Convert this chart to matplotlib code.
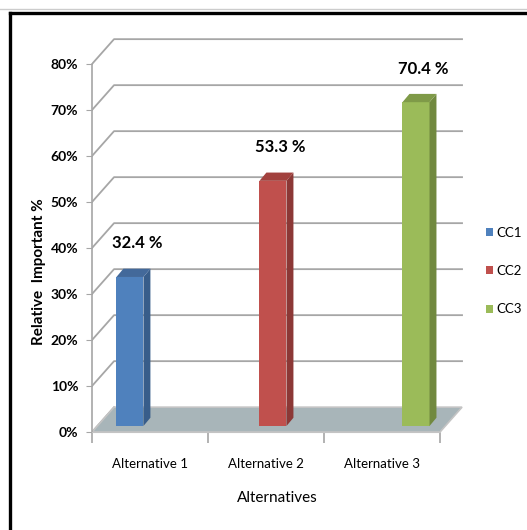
import numpy as np
import matplotlib.pyplot as plt
from matplotlib.patches import Polygon
from matplotlib.lines import Line2D

# data
categories = ["Alternative 1", "Alternative 2", "Alternative 3"]
series_names = ["CC1", "CC2", "CC3"]
cc1 = [32.4, 0, 0]
cc2 = [0, 53.3, 0]
cc3 = [0, 0, 70.4]
yticks = [0, 10, 20, 30, 40, 50, 60, 70, 80]

front_colors = ["#4f81bd", "#c0504d", "#9bbb59"]
side_colors = ["#385d8a", "#8c3836", "#71893f"]
top_colors = ["#43699a", "#a2413e", "#7f9a48"]

plt.rcParams["font.family"] = ["Lato", "DejaVu Sans"]

fig = plt.figure(figsize=(5.27, 5.30), dpi=100)
ax = fig.add_axes([92 / 527, 98 / 530, 371.2 / 527, 395.6 / 530])
ax.set_xlim(-0.5, 2.7)
ax.set_ylim(0, 86)

# fake 3d geometry (data units)
DX, DY = 0.19, 5.4          # wall depth
bx, by = 0.06, 1.3          # bars sit a bit behind the front edge
sx, sy = 0.06, 1.8          # bar depth (side / top faces)
w = 0.233                   # bar width
grid_col = "#a6a6a6"

# floor
floor = Polygon([(-0.5, 0), (2.5, 0), (2.5 + DX, DY), (-0.5 + DX, DY)],
                closed=True, facecolor="#a8b5b9", edgecolor="#c4c4c4", lw=1.2, zorder=1)
ax.add_patch(floor)

# gridlines on back wall, with diagonal to the front axis
for v in yticks:
    if v == 0:
        ax.plot([-0.5, -0.5 + DX], [0, DY], color=grid_col, lw=1.2, zorder=0.5)
        continue
    ax.plot([-0.5, -0.5 + DX, 2.5 + DX], [v, v + DY, v + DY],
            color=grid_col, lw=1.3, zorder=0.5)

# bars
values = [cc1, cc2, cc3]
offsets = [-w, 0, w]
for s, vals in enumerate(values):
    for i, v in enumerate(vals):
        if v <= 0:
            continue
        x0 = i + offsets[s] + bx - w / 2
        x1 = x0 + w
        y0 = by
        y1 = by + v
        ax.bar(x0, v, width=w, bottom=y0, align="edge", color=front_colors[s],
               edgecolor="none", zorder=3)
        side = Polygon([(x1, y0), (x1 + sx, y0 + sy), (x1 + sx, y1 + sy), (x1, y1)],
                       closed=True, facecolor=side_colors[s], edgecolor="none", zorder=3)
        top = Polygon([(x0, y1), (x1, y1), (x1 + sx, y1 + sy), (x0 + sx, y1 + sy)],
                      closed=True, facecolor=top_colors[s], edgecolor="none", zorder=3)
        ax.add_patch(side)
        ax.add_patch(top)
        ax.text((x0 + x1 + sx) / 2 + 0.03, y1 + 7.3, "{:.1f} %".format(v),
                ha="center", va="center", fontsize=12, fontweight="bold", zorder=4)

# axes styling
for sp in ["top", "right"]:
    ax.spines[sp].set_visible(False)
ax.spines["left"].set_bounds(0, 80)
ax.spines["left"].set_color(grid_col)
ax.spines["left"].set_linewidth(1.2)
ax.spines["bottom"].set_bounds(-0.5, 2.5)
ax.spines["bottom"].set_color("#c4c4c4")

ax.set_yticks(yticks)
ax.set_yticklabels(["{}%".format(v) for v in yticks], fontsize=10, fontweight="bold")
ax.tick_params(axis="y", length=4, color=grid_col, pad=6)

ax.set_xticks(range(len(categories)))
ax.set_xticklabels(categories, fontsize=9.5)
ax.set_xticks([-0.5, 0.5, 1.5, 2.5], minor=True)
ax.tick_params(axis="x", which="major", length=0, pad=19)
ax.tick_params(axis="x", which="minor", length=8, color=grid_col, width=1.2)

ax.set_xlabel("Alternatives", fontsize=11, labelpad=15)
ax.set_ylabel("Relative  Important %", fontsize=11, fontweight="bold")
ax.yaxis.set_label_coords(-0.125, 0.405)

# legend
handles = [Polygon([(0, 0)], facecolor=c, edgecolor="none") for c in front_colors]
ax.legend(handles, series_names, loc="center left", bbox_to_anchor=(483 / 527, 1 - 271 / 530),
          bbox_transform=fig.transFigure, frameon=False, fontsize=9.5,
          handlelength=0.55, handleheight=0.55, handletextpad=0.3, labelspacing=2.0,
          borderaxespad=0, borderpad=0.2)

# frame of the screenshot (top and left only)
fig.add_artist(Line2D([0, 1], [1 - 9 / 530, 1 - 9 / 530], color="#cccccc", lw=1, transform=fig.transFigure))
fig.add_artist(Line2D([10 / 527, 1], [1 - 12.5 / 530, 1 - 12.5 / 530], color="black", lw=2.4,
                      transform=fig.transFigure))
fig.add_artist(Line2D([10 / 527, 10 / 527], [0, 1 - 12.5 / 530], color="black", lw=2.4,
                      transform=fig.transFigure))

fig.savefig("out.png", dpi=100)
